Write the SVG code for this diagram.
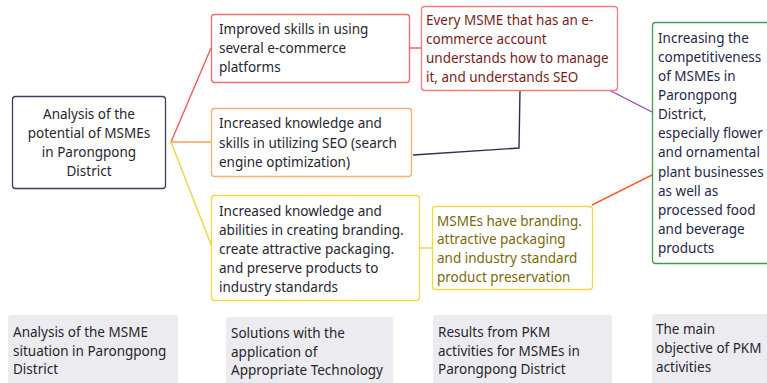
<svg xmlns="http://www.w3.org/2000/svg" width="767" height="383" viewBox="0 0 767 383">
<style>
text{font-family:"Noto Sans","Open Sans","DejaVu Sans",sans-serif;font-size:13.5px;fill:#26262f}
.box{fill:#fff;stroke-width:1.3}
.cap{fill:#ececf0}
.c{fill:none;stroke-width:1.4}
.r{fill:#7a1c1c}
.o{fill:#7a6a08}
.g{fill:#1f2748}
</style>
<rect width="767" height="383" fill="#fff"/>
<g id="connectors">
<path class="c" d="M171 142 L211 48" stroke="#f25a5a"/>
<path class="c" d="M171 142 L211 142" stroke="#f5a24e"/>
<path class="c" d="M171 142 L212 247" stroke="#f2d23a"/>
<path class="c" d="M410 48 L422 48" stroke="#f25a5a"/>
<path class="c" d="M420 248 L433 248" stroke="#f2d23a"/>
<path class="c" d="M413 155 L519 148 L520 90" stroke="#2c2f52" stroke-width="1.8"/>
<path class="c" d="M607 89 L652 112" stroke="#9a3fc8"/>
<path class="c" d="M592 205 L652 175" stroke="#ff5a2a"/>
</g>
<g id="n-analysis">
<rect class="box" x="12.5" y="96.5" width="153" height="92" rx="3" stroke="#3b3e5e"/>
<text x="89" y="119" text-anchor="middle">Analysis of the</text>
<text x="89" y="138" text-anchor="middle">potential of MSMEs</text>
<text x="89" y="157" text-anchor="middle">in Parongpong</text>
<text x="89" y="176" text-anchor="middle">District</text>
</g>
<g id="n-skills">
<rect class="box" x="211.5" y="14.5" width="198" height="68" rx="3" stroke="#f56a6a"/>
<text x="219" y="34">Improved skills in using</text>
<text x="219" y="53">several e-commerce</text>
<text x="219" y="72">platforms</text>
</g>
<g id="n-seo">
<rect class="box" x="211.5" y="108.5" width="200" height="68" rx="3" stroke="#f7b072"/>
<text x="219" y="128">Increased knowledge and</text>
<text x="219" y="148">skills in utilizing SEO (search</text>
<text x="219" y="167">engine optimization)</text>
</g>
<g id="n-branding">
<rect class="box" x="211.5" y="195.5" width="208" height="105" rx="3" stroke="#f3d54a"/>
<text x="219" y="216">Increased knowledge and</text>
<text x="219" y="235">abilities in creating branding.</text>
<text x="219" y="254">create attractive packaging.</text>
<text x="219" y="273">and preserve products to</text>
<text x="219" y="292">industry standards</text>
</g>
<g id="n-ecommerce">
<rect class="box" x="421.5" y="6.5" width="196" height="84" rx="3" stroke="#f77c7c"/>
<text class="r" x="426" y="25">Every MSME that has an e-</text>
<text class="r" x="426" y="44">commerce account</text>
<text class="r" x="426" y="63">understands how to manage</text>
<text class="r" x="426" y="82">it, and understands SEO</text>
</g>
<g id="n-packaging">
<rect class="box" x="432.5" y="206.5" width="160" height="83" rx="3" stroke="#f3d54a"/>
<text class="o" x="437" y="226">MSMEs have branding.</text>
<text class="o" x="437" y="244">attractive packaging</text>
<text class="o" x="437" y="263">and industry standard</text>
<text class="o" x="437" y="282">product preservation</text>
</g>
<g id="n-objective">
<rect class="box" x="652.5" y="22.5" width="140" height="241" rx="3" stroke="#3f9e4a"/>
<text class="g" x="658" y="43">Increasing the</text>
<text class="g" x="658" y="62">competitiveness</text>
<text class="g" x="658" y="81">of MSMEs in</text>
<text class="g" x="658" y="100">Parongpong</text>
<text class="g" x="658" y="119">District,</text>
<text class="g" x="658" y="138">especially flower</text>
<text class="g" x="658" y="157">and ornamental</text>
<text class="g" x="658" y="177">plant businesses</text>
<text class="g" x="658" y="196">as well as</text>
<text class="g" x="658" y="215">processed food</text>
<text class="g" x="658" y="234">and beverage</text>
<text class="g" x="658" y="253">products</text>
</g>
<g id="cap-1">
<rect class="cap" x="8" y="315" width="170" height="80" rx="3"/>
<text x="13" y="337">Analysis of the MSME</text>
<text x="13" y="356">situation in Parongpong</text>
<text x="13" y="374">District</text>
</g>
<g id="cap-2">
<rect class="cap" x="226" y="317" width="167" height="80" rx="3"/>
<text x="231" y="338">Solutions with the</text>
<text x="231" y="357">application of</text>
<text x="231" y="375">Appropriate Technology</text>
</g>
<g id="cap-3">
<rect class="cap" x="433" y="315" width="179" height="80" rx="3"/>
<text x="438" y="337">Results from PKM</text>
<text x="438" y="356">activities for MSMEs in</text>
<text x="438" y="374">Parongpong District</text>
</g>
<g id="cap-4">
<rect class="cap" x="652" y="314" width="140" height="80" rx="3"/>
<text x="656" y="334">The main</text>
<text x="656" y="353">objective of PKM</text>
<text x="656" y="372">activities</text>
</g>
</svg>
